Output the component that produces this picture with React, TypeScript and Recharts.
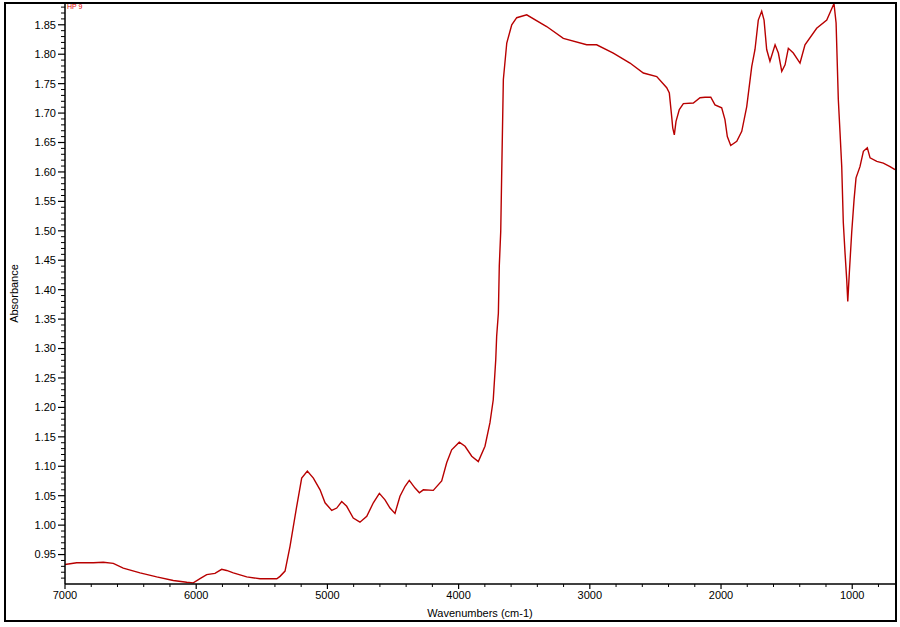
import React from 'react';
import { LineChart, Line, XAxis, YAxis, Label } from 'recharts';

const wavenumbers = [7000, 6911, 6784, 6708, 6632, 6556, 6428, 6301, 6175, 6072, 6022, 5971, 5920, 5857, 5806, 5768, 5717, 5615, 5514, 5386, 5361, 5323, 5285, 5234, 5196, 5153, 5107, 5056, 5018, 4967, 4929, 4891, 4853, 4803, 4752, 4700, 4650, 4604, 4561, 4523, 4485, 4447, 4408, 4376, 4332, 4299, 4269, 4193, 4129, 4091, 4053, 3995, 3951, 3900, 3850, 3799, 3761, 3736, 3717, 3710, 3697, 3690, 3679, 3672, 3659, 3633, 3595, 3557, 3481, 3329, 3202, 3024, 2948, 2821, 2694, 2592, 2490, 2414, 2394, 2376, 2368, 2356, 2343, 2318, 2287, 2211, 2160, 2122, 2078, 2046, 1995, 1970, 1952, 1926, 1880, 1842, 1804, 1766, 1741, 1716, 1690, 1672, 1652, 1627, 1588, 1563, 1537, 1512, 1487, 1449, 1398, 1360, 1271, 1194, 1139, 1123, 1106, 1093, 1080, 1068, 1055, 1042, 1034, 1022, 1004, 986, 971, 941, 915, 885, 864, 813, 763, 712, 674];

const absorbance = [0.933, 0.936, 0.936, 0.937, 0.935, 0.927, 0.919, 0.912, 0.906, 0.903, 0.902, 0.909, 0.916, 0.918, 0.925, 0.923, 0.919, 0.912, 0.909, 0.909, 0.913, 0.922, 0.964, 1.032, 1.080, 1.092, 1.080, 1.060, 1.038, 1.025, 1.029, 1.040, 1.032, 1.012, 1.005, 1.015, 1.038, 1.054, 1.043, 1.029, 1.020, 1.049, 1.066, 1.076, 1.063, 1.055, 1.060, 1.059, 1.075, 1.106, 1.128, 1.141, 1.134, 1.117, 1.108, 1.134, 1.174, 1.213, 1.281, 1.321, 1.360, 1.440, 1.499, 1.592, 1.757, 1.819, 1.850, 1.862, 1.867, 1.847, 1.827, 1.816, 1.816, 1.802, 1.785, 1.768, 1.762, 1.743, 1.734, 1.694, 1.675, 1.663, 1.686, 1.706, 1.716, 1.717, 1.726, 1.727, 1.727, 1.714, 1.709, 1.689, 1.660, 1.645, 1.652, 1.669, 1.711, 1.779, 1.808, 1.858, 1.873, 1.858, 1.808, 1.788, 1.816, 1.802, 1.771, 1.782, 1.810, 1.802, 1.785, 1.816, 1.844, 1.858, 1.886, 1.853, 1.723, 1.667, 1.609, 1.514, 1.463, 1.417, 1.380, 1.429, 1.497, 1.553, 1.590, 1.609, 1.635, 1.641, 1.624, 1.618, 1.615, 1.609, 1.604];

const xMajorTicks = [7000, 6000, 5000, 4000, 3000, 2000, 1000];
const xAllTicks = [7000, 6800, 6600, 6400, 6200, 6000, 5800, 5600, 5400, 5200, 5000, 4800, 4600, 4400, 4200, 4000, 3800, 3600, 3400, 3200, 3000, 2800, 2600, 2400, 2200, 2000, 1800, 1600, 1400, 1200, 1000, 800];
const yMajorTicks = [0.95, 1.0, 1.05, 1.1, 1.15, 1.2, 1.25, 1.3, 1.35, 1.4, 1.45, 1.5, 1.55, 1.6, 1.65, 1.7, 1.75, 1.8, 1.85];
const yAllTicks = [0.91, 0.92, 0.93, 0.94, 0.95, 0.96, 0.97, 0.98, 0.99, 1.0, 1.01, 1.02, 1.03, 1.04, 1.05, 1.06, 1.07, 1.08, 1.09, 1.1, 1.11, 1.12, 1.13, 1.14, 1.15, 1.16, 1.17, 1.18, 1.19, 1.2, 1.21, 1.22, 1.23, 1.24, 1.25, 1.26, 1.27, 1.28, 1.29, 1.3, 1.31, 1.32, 1.33, 1.34, 1.35, 1.36, 1.37, 1.38, 1.39, 1.4, 1.41, 1.42, 1.43, 1.44, 1.45, 1.46, 1.47, 1.48, 1.49, 1.5, 1.51, 1.52, 1.53, 1.54, 1.55, 1.56, 1.57, 1.58, 1.59, 1.6, 1.61, 1.62, 1.63, 1.64, 1.65, 1.66, 1.67, 1.68, 1.69, 1.7, 1.71, 1.72, 1.73, 1.74, 1.75, 1.76, 1.77, 1.78, 1.79, 1.8, 1.81, 1.82, 1.83, 1.84, 1.85, 1.86, 1.87, 1.88];

const xDomain: [number, number] = [674, 7000];
const yDomain: [number, number] = [0.9, 1.887];

const data = wavenumbers.map((w, i) => ({ wn: w, a: absorbance[i] }));

const font = '"Liberation Sans", Arial, sans-serif';

const isMajorY = (v: number) => yMajorTicks.some((m) => Math.abs(m - v) < 1e-6);

function XTick(props: any) {
  const { x, y, payload } = props;
  const major = xMajorTicks.includes(payload.value);
  const len = major ? 5 : 3;
  return (
    <g>
      <line x1={x} y1={y} x2={x} y2={y + len} stroke="#000" strokeWidth={major ? 1.2 : 1} />
      {major && (
        <text x={x} y={y + 7} dy="0.71em" textAnchor="middle" fontSize={11} fill="#000" fontFamily={font}>
          {payload.value}
        </text>
      )}
    </g>
  );
}

function YTick(props: any) {
  const { x, y, payload } = props;
  const major = isMajorY(payload.value);
  const len = major ? 7 : 4;
  return (
    <g>
      <line x1={x} y1={y} x2={x - len} y2={y} stroke="#000" strokeWidth={major ? 1.2 : 1} />
      {major && (
        <text x={x - 9} y={y} dy="0.355em" textAnchor="end" fontSize={11} fill="#000" fontFamily={font}>
          {Number(payload.value).toFixed(2)}
        </text>
      )}
    </g>
  );
}

export default function App() {
  return (
    <div style={{ position: 'absolute', left: 0, top: 0, width: 900, height: 627, background: '#fff' }}>
      <LineChart
        width={900}
        height={627}
        data={data}
        margin={{ top: 3, right: 5, bottom: 0, left: 0 }}
        style={{ fontFamily: font }}
      >
        <XAxis
          dataKey="wn"
          type="number"
          domain={xDomain}
          allowDataOverflow
          reversed
          ticks={xAllTicks}
          interval={0}
          height={43}
          tickSize={0}
          tickMargin={0}
          tick={<XTick />}
          tickLine={false}
          axisLine={{ stroke: '#000', strokeWidth: 1.5 }}
        >
          <Label value="Wavenumbers (cm-1)" position="insideBottom" offset={10} style={{ fontSize: 11, fill: '#000', fontFamily: font }} />
        </XAxis>
        <YAxis
          type="number"
          domain={yDomain}
          allowDataOverflow
          ticks={yAllTicks}
          interval={0}
          width={65}
          tickSize={0}
          tickMargin={0}
          tick={<YTick />}
          tickLine={false}
          axisLine={{ stroke: '#000', strokeWidth: 1.5 }}
        >
          <Label value="Absorbance" angle={-90} position="insideLeft" offset={14} style={{ textAnchor: 'middle', fontSize: 11, fill: '#000', fontFamily: font }} />
        </YAxis>
        <Line
          dataKey="a"
          type="linear"
          stroke="#b80000"
          strokeWidth={1.4}
          dot={false}
          isAnimationActive={false}
        />
      </LineChart>
      <div style={{ position: 'absolute', left: 4, top: 2, width: 889, height: 616, border: '2px solid #000', pointerEvents: 'none' }} />
      <div style={{ position: 'absolute', left: 67, top: 3, fontSize: 7, lineHeight: '8px', color: '#e00000', fontFamily: font }}>HP 9</div>
    </div>
  );
}
